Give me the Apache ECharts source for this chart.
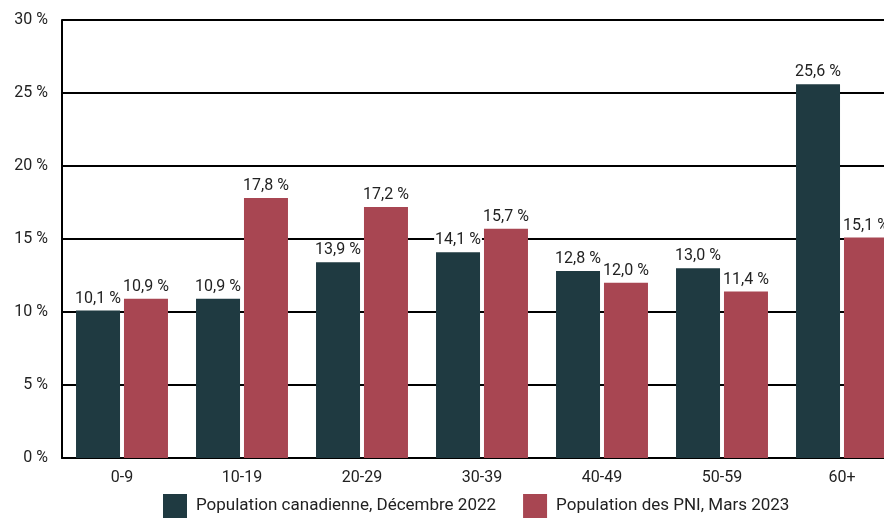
<!DOCTYPE html>
<html>
<head>
<meta charset="utf-8">
<script src="https://cdn.jsdelivr.net/npm/echarts@6/dist/echarts.min.js"></script>
<style>
    html, body { margin: 0; padding: 0; background: #fff; }
    #chart { width: 884px; height: 518px; }
</style>
</head>
<body>
<div id="chart"></div>
<script>
    // groupes d'âge
    const categories = ['0-9', '10-19', '20-29', '30-39', '40-49', '50-59', '60+'];
    const seriesNames = ['Population canadienne, Décembre 2022', 'Population des PNI, Mars 2023'];
    // hauteurs des barres (la barre 20-29 est dessinée plus bas que son étiquette)
    const canadaValues = [10.1, 10.9, 13.4, 14.1, 12.8, 13.0, 25.6];
    const pniValues = [10.9, 17.8, 17.2, 15.7, 12.0, 11.4, 15.1];
    // étiquettes affichées au-dessus des barres
    const canadaLabels = ['10,1 %', '10,9 %', '13,9 %', '14,1 %', '12,8 %', '13,0 %', '25,6 %'];
    const pniLabels = ['10,9 %', '17,8 %', '17,2 %', '15,7 %', '12,0 %', '11,4 %', '15,1 %'];

    const font = 'Roboto, "Liberation Sans", sans-serif';

    let myChart = echarts.init(document.getElementById('chart'));
    const barLabel = (texts) => ({
        show: true,
        position: 'top',
        distance: 4,
        color: '#222',
        fontSize: 16,
        fontFamily: font,
        backgroundColor: '#fff',
        padding: [1, 1, 0, 1],
        formatter: (p) => texts[p.dataIndex]
    });

    myChart.setOption({
        animation: false,
        grid: {
            left: 62,
            width: 840,   // le graphique original est coupé à droite
            top: 20,
            bottom: 60,
            outerBoundsMode: 'none'
        },
        legend: {
            data: seriesNames,
            bottom: 0,
            left: 163,
            padding: 0,
            itemWidth: 24,
            itemHeight: 24,
            itemGap: 27,
            icon: 'rect',
            textStyle: {
                color: '#222',
                fontSize: 17,
                fontFamily: font,
                padding: [0, 0, 0, 4]
            }
        },
        xAxis: {
            type: 'category',
            data: categories,
            axisLine: { lineStyle: { color: '#000', width: 2 } },
            axisTick: { inside: true, length: 11, lineStyle: { color: '#000', width: 2 } },
            axisLabel: { color: '#222', fontSize: 16, fontFamily: font, margin: 12 }
        },
        yAxis: {
            type: 'value',
            min: 0,
            max: 30,
            interval: 5,
            axisLine: { show: true, lineStyle: { color: '#000', width: 2 } },
            axisTick: { show: false },
            splitLine: { lineStyle: { color: '#000', width: 2 } },
            axisLabel: {
                color: '#222',
                fontSize: 16,
                fontFamily: font,
                margin: 14,
                formatter: '{value} %'
            }
        },
        series: [{
            name: seriesNames[0],
            type: 'bar',
            data: canadaValues,
            barWidth: 44,
            barGap: '9%',
            itemStyle: { color: '#1f3a41' },
            label: barLabel(canadaLabels)
        }, {
            name: seriesNames[1],
            type: 'bar',
            data: pniValues,
            barWidth: 44,
            itemStyle: { color: '#a84652' },
            label: barLabel(pniLabels)
        }]
    });
</script>
</body>
</html>
